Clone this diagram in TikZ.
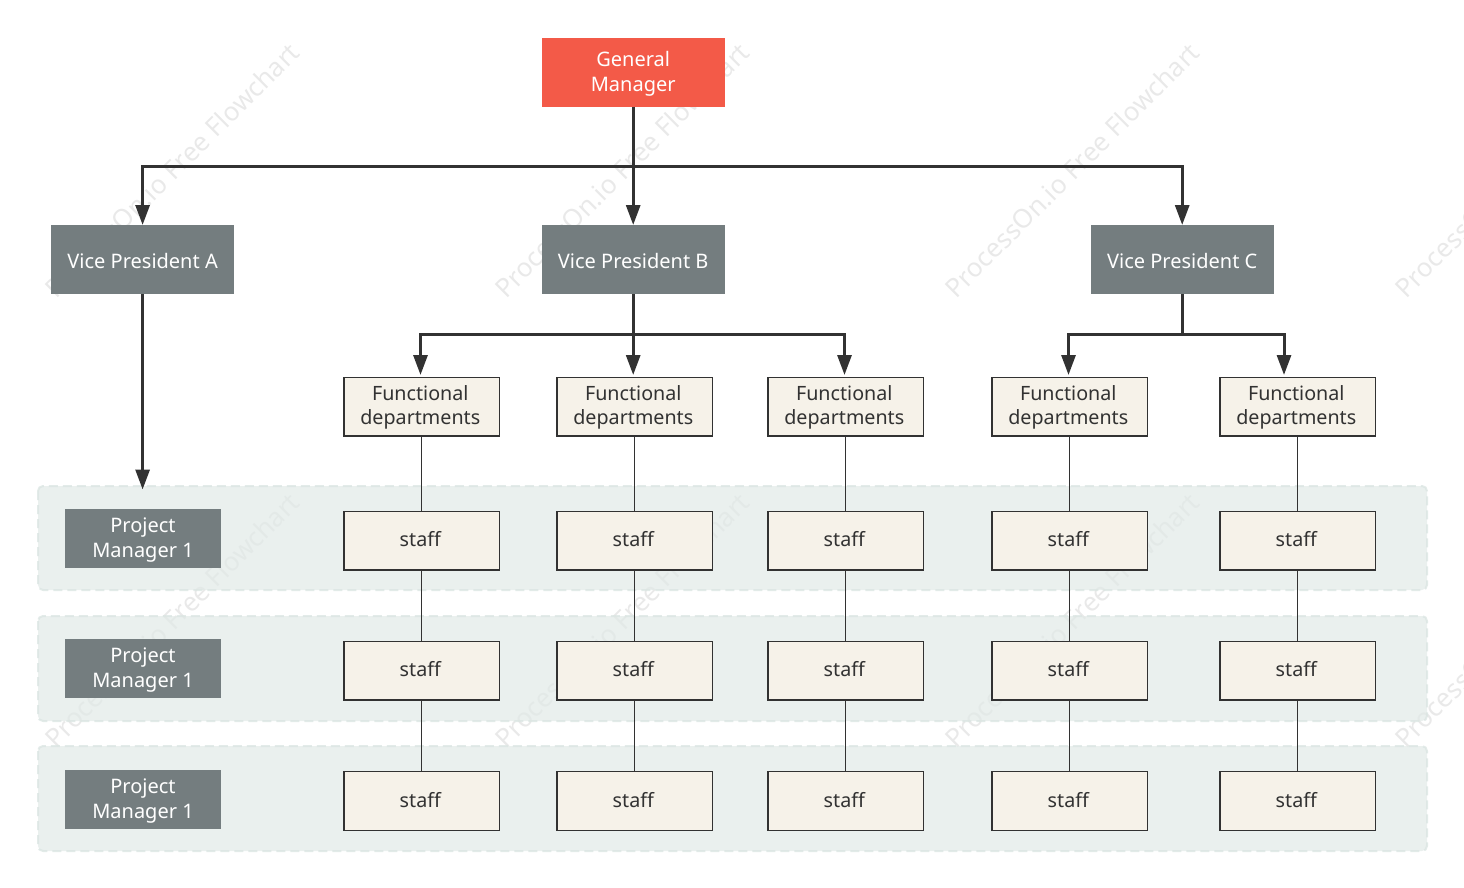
\documentclass[tikz,border=0pt]{standalone}
\usepackage{fontspec}
\setmainfont{Noto Sans}
\usetikzlibrary{arrows.meta}
\definecolor{redbox}{HTML}{F35A48}
\definecolor{greybox}{HTML}{747D7F}
\definecolor{creambox}{HTML}{F6F2E9}
\definecolor{inkline}{HTML}{323232}
\definecolor{bandfill}{HTML}{E1E9E7}
\definecolor{bandedge}{HTML}{DCE6E3}
\definecolor{wmark}{HTML}{E9E9E9}
\newcommand\lowtop{\rule{0pt}{18pt}}
\newcommand\lowdept{\rule{0pt}{17pt}}
\newcommand\highstaff{\rule[-3pt]{0pt}{3pt}}
\newcommand\padr{\rule{2.6pt}{0pt}}
\tikzset{
  every node/.style={font=\fontsize{20}{24.5}\selectfont,align=center,inner sep=0pt,outer sep=0pt},
  topbox/.style={fill=redbox,text=white,minimum width=183pt,minimum height=69pt},
  vpbox/.style={fill=greybox,text=white,minimum width=183pt,minimum height=69pt},
  pmbox/.style={fill=greybox,text=white,minimum width=156pt,minimum height=59pt},
  deptbox/.style={fill=creambox,draw=inkline,line width=1.4pt,text=inkline,minimum width=155.6pt,minimum height=58.6pt,font=\fontsize{19.7}{24.5}\selectfont},
  band/.style={fill=bandfill,fill opacity=.7,draw=bandedge,draw opacity=.8,line width=2pt,dash pattern=on 9pt off 5pt,rounded corners=5pt},
  wm/.style={text=wmark,rotate=45,font=\fontsize{26.1}{30}\selectfont},
  trunk/.style={draw=inkline,line width=3pt},
  arrowline/.style={draw=inkline,line width=3pt,-{Triangle[length=20pt,width=14pt]}},
  link/.style={draw=inkline,line width=1.3pt,xshift=-.5pt},
}
\begin{document}
\begin{tikzpicture}[x=1pt,y=-1pt]
\useasboundingbox (0,0) rectangle (1464,888);
\foreach \wx in {172,622,1072,1522}
  \foreach \wy in {170,620}
    \node[wm] (w\wx\wy) at (\wx,\wy) {ProcessOn.io Free Flowchart};
\draw[band] (38,486) rectangle (1427,590);
\draw[band] (38,616) rectangle (1427,721);
\draw[band] (38,746) rectangle (1427,851);
\node[topbox] (gm) at (633.2,72.5) {\lowtop General\\Manager};
\node[vpbox] (vpa) at (142.6,259.5) {\lowtop Vice President A};
\node[vpbox] (vpb) at (633.2,259.5) {\lowtop Vice President B};
\node[vpbox] (vpc) at (1182.2,259.5) {\lowtop Vice President C};
\node[pmbox] (pm1) at (143,538.5) {\lowtop Project\\Manager 1};
\node[pmbox] (pm2) at (143,668.5) {\lowtop Project\\Manager 1};
\node[pmbox] (pm3) at (143,799.5) {\lowtop Project\\Manager 1};
\foreach \n/\cx in {1/421.6,2/634.6,3/845.6,4/1069.6,5/1297.6}{
  \node[deptbox] (f\n) at (\cx,406.5) {\lowdept Functional\padr\\departments\padr};
  \node[deptbox] (sa\n) at (\cx,540.5) {\highstaff staff\padr};
  \node[deptbox] (sb\n) at (\cx,670.5) {\highstaff staff\padr};
  \node[deptbox] (sc\n) at (\cx,801) {\highstaff staff\padr};
  \draw[link] (f\n.south) -- (sa\n.north);
  \draw[link] (sa\n.south) -- (sb\n.north);
  \draw[link] (sb\n.south) -- (sc\n.north);
}
\coordinate (j0) at (633.2,166.5);
\coordinate (jb) at (633.2,334.5);
\coordinate (jc) at (1182.2,334.5);
\coordinate (pmtop) at (142.6,489.5);
\coordinate (tb1) at (420.5,375);
\coordinate (tb2) at (633.2,375);
\coordinate (tb3) at (844.5,375);
\coordinate (tc1) at (1068.5,375);
\coordinate (tc2) at (1284,375);
\draw[trunk] (gm.south) -- (j0);
\draw[arrowline] (j0) -| (vpa.north);
\draw[arrowline] (j0) -- (vpb.north);
\draw[arrowline] (j0) -| (vpc.north);
\draw[arrowline] (vpa.south) -- (pmtop);
\draw[trunk] (vpb.south) -- (jb);
\draw[arrowline] (jb) -| (tb1);
\draw[arrowline] (jb) -- (tb2);
\draw[arrowline] (jb) -| (tb3);
\draw[trunk] (vpc.south) -- (jc);
\draw[arrowline] (jc) -| (tc1);
\draw[arrowline] (jc) -| (tc2);
\end{tikzpicture}
\end{document}
